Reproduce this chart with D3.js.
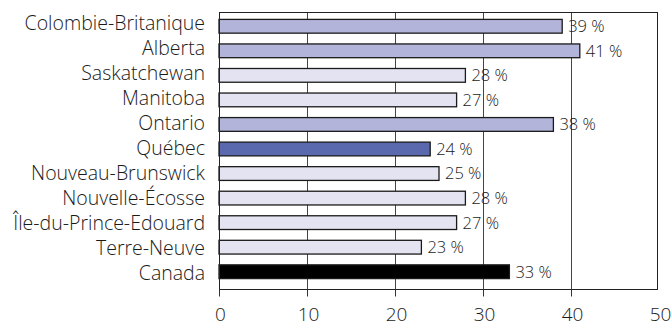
<!DOCTYPE html>
<html>
<head>
<meta charset="utf-8">
<script src="https://cdn.jsdelivr.net/npm/d3@7"></script>
<style>
  html, body { margin: 0; padding: 0; background: #fff; }
  svg { display: block; }
  text { font-family: "Open Sans", "Liberation Sans", sans-serif; font-weight: 300; fill: #1a1a1a; }
</style>
</head>
<body>
<svg id="chart" width="672" height="326"></svg>
<script>
// Provinces, top to bottom, with their shares (%)
const categories = [
  "Colombie-Britanique", "Alberta", "Saskatchewan", "Manitoba", "Ontario",
  "Québec", "Nouveau-Brunswick", "Nouvelle-Écosse", "Île-du-Prince-Edouard",
  "Terre-Neuve", "Canada"
];
const values = [39, 41, 28, 27, 38, 24, 25, 28, 27, 23, 33];
const groups = ["haut", "haut", "bas", "bas", "haut", "quebec", "bas", "bas", "bas", "bas", "canada"];
const tickValues = [0, 10, 20, 30, 40, 50];

const data = categories.map((c, i) => ({ name: c, value: values[i], group: groups[i] }));

const plot = { left: 219, right: 657, top: 12, bottom: 289 };

const svg = d3.select("#chart");

const x = d3.scaleLinear().domain([0, 50]).range([plot.left, plot.right + 2]);
const yBar = d3.scaleBand().domain(categories).range([14, 284]).paddingInner(0.44).paddingOuter(0.22);
const yLab = d3.scaleBand().domain(categories).range([10, 286]);

const color = d3.scaleOrdinal()
  .domain(["haut", "bas", "quebec", "canada"])
  .range(["#b2b5d9", "#e3e3f1", "#5a69ae", "#000000"]);

// plot frame background
svg.append("rect")
  .attr("x", plot.left).attr("y", plot.top)
  .attr("width", plot.right - plot.left).attr("height", plot.bottom - plot.top)
  .attr("fill", "#fff");

// vertical gridlines
svg.append("g").selectAll("line")
  .data(tickValues.filter(t => t > 0 && x(t) < plot.right))
  .join("line")
  .attr("x1", d => Math.round(x(d)) + 0.5).attr("x2", d => Math.round(x(d)) + 0.5)
  .attr("y1", plot.top).attr("y2", plot.bottom)
  .attr("stroke", "#444").attr("stroke-width", 1);

// bars
svg.append("g").selectAll("rect")
  .data(data)
  .join("rect")
  .attr("x", x(0))
  .attr("y", d => yBar(d.name))
  .attr("width", d => x(d.value) - x(0))
  .attr("height", yBar.bandwidth())
  .attr("fill", d => color(d.group))
  .attr("stroke", "#1a1a1a")
  .attr("stroke-width", 1.3);

// frame
svg.append("rect")
  .attr("x", plot.left + 0.5).attr("y", plot.top + 0.5)
  .attr("width", plot.right - plot.left).attr("height", plot.bottom - plot.top)
  .attr("fill", "none").attr("stroke", "#222").attr("stroke-width", 1);

// value labels
svg.append("g").selectAll("text")
  .data(data)
  .join("text")
  .attr("x", d => x(d.value) + 6)
  .attr("y", d => yBar(d.name) + yBar.bandwidth() / 2)
  .attr("dy", "0.36em")
  .attr("font-size", 16.5)
  .text(d => d.value + " %");

// category axis
const yAxis = svg.append("g")
  .attr("transform", `translate(${plot.left - 14},0)`)
  .call(d3.axisLeft(yLab).tickSize(0).tickPadding(0));
yAxis.select(".domain").remove();
yAxis.selectAll("text")
  .attr("font-size", 19.5)
  .attr("dy", "0.36em")
  .style("font-family", null);

// value axis
const xAxis = svg.append("g")
  .attr("transform", `translate(0,${plot.bottom + 0.5})`)
  .call(d3.axisBottom(x).tickValues(tickValues).tickSize(7).tickPadding(11).tickFormat(d3.format("d")));
xAxis.select(".domain").remove();
xAxis.selectAll(".tick line")
  .attr("stroke", "#333")
  .attr("display", d => x(d) > plot.right ? "none" : null);
xAxis.selectAll(".tick text")
  .attr("font-size", 19)
  .attr("dx", 1)
  .style("font-family", null);
</script>
</body>
</html>
